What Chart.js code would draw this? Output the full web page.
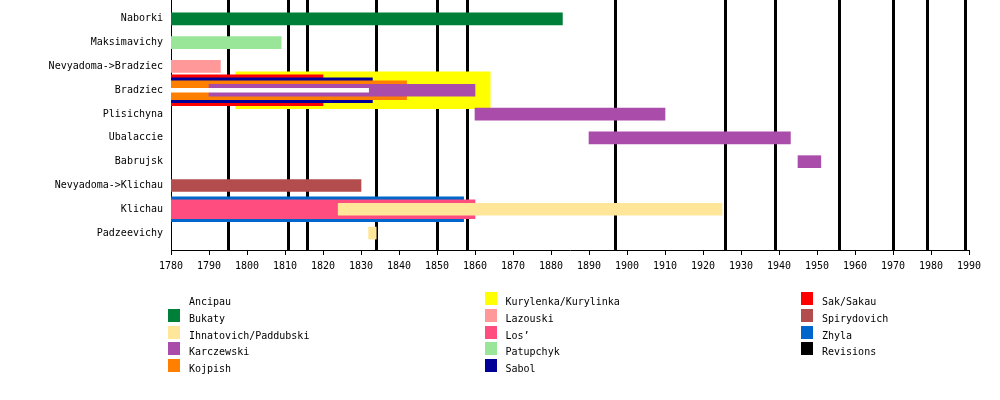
<!DOCTYPE html>
<html><head><meta charset="utf-8">
<script src="https://cdn.jsdelivr.net/npm/chart.js@4.4.0/dist/chart.umd.min.js"></script>
<style>
html,body{margin:0;padding:0;background:#fff;}
#wrap{position:relative;width:1000px;height:400px;overflow:hidden;}
#c{position:absolute;left:0;top:0;}
#legend{position:absolute;left:168px;top:292px;display:grid;grid-template-columns:repeat(3,316.5px);grid-template-rows:repeat(5,16.8px);grid-auto-flow:column;font:10px "DejaVu Sans Mono",monospace;color:#000;}
.item{position:relative;height:16.8px;}
.sw{position:absolute;left:0;top:0;width:12px;height:13px;}
.lb{position:absolute;left:21px;top:3px;line-height:13px;white-space:pre;}
</style></head>
<body><div id="wrap"><canvas id="c" width="1000" height="400"></canvas><div id="legend"></div></div>
<script>
// ---- data ----
const categories = ['Naborki','Maksimavichy','Nevyadoma->Bradziec','Bradziec','Plisichyna','Ubalaccie','Babrujsk','Nevyadoma->Klichau','Klichau','Padzeevichy'];
const yearTicks = [1780,1790,1800,1810,1820,1830,1840,1850,1860,1870,1880,1890,1900,1910,1920,1930,1940,1950,1960,1970,1980,1990];
const families = ['Ancipau','Bukaty','Ihnatovich/Paddubski','Karczewski','Kojpish','Kurylenka/Kurylinka','Lazouski',"Los\u2019",'Patupchyk','Sabol','Sak/Sakau','Spirydovich','Zhyla'];

const spansAncipau     = [['Bradziec',1780,1832]];
const spansBukaty      = [['Naborki',1780,1883]];
const spansIhnatovich  = [['Klichau',1824,1925],['Padzeevichy',1832,1834]];
const spansKarczewski  = [['Bradziec',1790,1860],['Plisichyna',1860,1910],['Ubalaccie',1890,1943],['Babrujsk',1945,1951]];
const spansKojpish     = [['Bradziec',1780,1842]];
const spansKurylenka   = [['Bradziec',1797,1864]];
const spansLazouski    = [['Nevyadoma->Bradziec',1780,1793]];
const spansLos         = [['Klichau',1780,1860]];
const spansPatupchyk   = [['Maksimavichy',1780,1809]];
const spansSabol       = [['Bradziec',1780,1833]];
const spansSak         = [['Bradziec',1780,1820]];
const spansSpirydovich = [['Nevyadoma->Klichau',1780,1830]];
const spansZhyla       = [['Klichau',1780,1857]];
const familySpans = [spansAncipau,spansBukaty,spansIhnatovich,spansKarczewski,spansKojpish,spansKurylenka,spansLazouski,spansLos,spansPatupchyk,spansSabol,spansSak,spansSpirydovich,spansZhyla];

const revisionYears = [1795,1811,1816,1834,1850,1858,1897,1926,1939,1956,1970,1979,1989];

// ---- styles ----
const familyColors = ['#ffffff','#007f38','#ffe699','#aa4daa','#ff8000','#ffff00','#ff9999','#ff4d80','#99e699','#000099','#ff0000','#b34d4d','#0066cc'];
const familyThickness = [4,12,12,12,19,37,12,19,12,25,31,12,25];
const revisionColor = '#000000';
const FONT = {family:'"DejaVu Sans Mono", monospace', size:10};

const datasets = families.map((f,i)=>({
  label:f,
  data:familySpans[i].map(([row,s,e])=>({y:categories.indexOf(row), x:[s,e]})),
  backgroundColor:familyColors[i],
  barThickness:familyThickness[i],
  order:familyThickness[i],
  grouped:false,
  borderWidth:0
}));

new Chart(document.getElementById('c'),{
  type:'bar',
  data:{datasets},
  options:{
    indexAxis:'y',
    responsive:false,
    animation:false,
    devicePixelRatio:1,
    layout:{padding:{left:0,right:31,top:0,bottom:0}},
    plugins:{legend:{display:false},tooltip:{enabled:false}},
    scales:{
      x:{
        type:'linear',position:'bottom',min:1780,max:1990,offset:false,
        afterBuildTicks(s){ s.ticks = yearTicks.map(v=>({value:v})); },
        ticks:{color:'#000',font:FONT,padding:5,autoSkip:false,maxRotation:0,callback:v=>String(v)},
        grid:{drawOnChartArea:false,drawTicks:true,tickLength:5,color:'#000',lineWidth:1},
        border:{display:true,color:'#000',width:1},
        afterFit(s){ s.height=150; s.paddingLeft=0; s.paddingRight=0; }
      },
      rev:{
        type:'linear',position:'top',axis:'x',min:1780,max:1990,offset:false,
        afterBuildTicks(s){ s.ticks = revisionYears.map(v=>({value:v})); },
        ticks:{display:false},
        grid:{color:revisionColor,lineWidth:3,drawTicks:false,offset:false},
        border:{display:false},
        afterFit(s){ s.height=0; s.paddingLeft=0; s.paddingRight=0; }
      },
      y:{
        type:'linear',reverse:true,min:-0.79,max:9.71,offset:false,
        afterBuildTicks(s){ s.ticks = categories.map((c,i)=>({value:i})); },
        ticks:{color:'#000',font:FONT,padding:8,autoSkip:false,callback:v=>categories[v] ?? ''},
        grid:{display:false,drawTicks:false,offset:false},
        border:{display:true,color:'#000',width:1},
        afterFit(s){ s.width=171; s.paddingTop=0; s.paddingBottom=0; }
      }
    }
  }
});

// ---- legend ----
const legend = document.getElementById('legend');
const legendNames = families.concat(['Revisions']);
const legendColors = familyColors.concat([revisionColor]);
legendNames.forEach((n,i)=>{
  const it = document.createElement('div'); it.className='item';
  const sw = document.createElement('div'); sw.className='sw'; sw.style.background=legendColors[i];
  const lb = document.createElement('div'); lb.className='lb'; lb.textContent=n;
  it.appendChild(sw); it.appendChild(lb); legend.appendChild(it);
});
</script>
</body></html>
